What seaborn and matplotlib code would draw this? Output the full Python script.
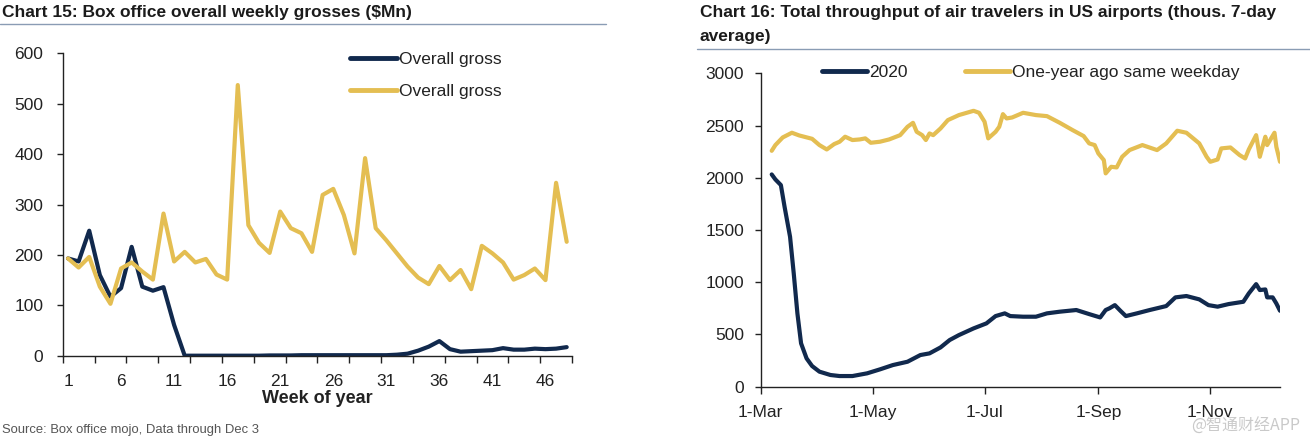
import numpy as np
import pandas as pd
import matplotlib
matplotlib.use('Agg')
import matplotlib.pyplot as plt
import matplotlib.dates as mdates
from matplotlib.lines import Line2D
from matplotlib import font_manager
import seaborn as sns

# ---- Chart 15: box office weekly grosses ($Mn), weeks 1-48 ----
weeks = list(range(1, 49))
gross_2020 = [193, 187, 248, 160, 117, 134, 216, 137, 129, 136, 61, 0,
              0, 0, 0, 0, 0, 0, 0, 0.5, 0.5, 0.5, 1, 1, 1, 1, 1, 1, 1, 1, 1,
              2, 4, 10, 18, 29, 13, 8, 9, 10, 11, 15, 12, 12, 14, 13, 14, 17]
gross_2019 = [193, 175, 196, 137, 103, 173, 185, 167, 151, 282, 187, 206,
              185, 192, 161, 151, 537, 259, 224, 204, 286, 253, 243, 206,
              319, 331, 279, 203, 392, 253, 229, 203, 177, 155, 142, 178,
              150, 170, 132, 218, 203, 185, 151, 160, 173, 150, 343, 226]
week_labels = [1, 6, 11, 16, 21, 26, 31, 36, 41, 46]

# ---- Chart 16: TSA throughput (thous., 7-day avg) ----
dates_2020 = ['2020-03-07', '2020-03-09', '2020-03-12', '2020-03-14', '2020-03-17',
              '2020-03-19', '2020-03-21', '2020-03-23', '2020-03-26', '2020-03-29',
              '2020-04-02', '2020-04-08', '2020-04-13', '2020-04-20', '2020-04-28',
              '2020-05-05', '2020-05-12', '2020-05-20', '2020-05-27', '2020-06-01',
              '2020-06-07', '2020-06-12', '2020-06-17', '2020-06-25', '2020-07-02',
              '2020-07-07', '2020-07-12', '2020-07-15', '2020-07-22', '2020-07-29',
              '2020-08-04', '2020-08-11', '2020-08-20', '2020-08-27', '2020-09-02',
              '2020-09-05', '2020-09-07', '2020-09-10', '2020-09-13', '2020-09-16',
              '2020-09-22', '2020-09-29', '2020-10-08', '2020-10-13', '2020-10-19',
              '2020-10-26', '2020-10-31', '2020-11-05', '2020-11-11', '2020-11-19',
              '2020-11-22', '2020-11-26', '2020-11-28', '2020-12-01', '2020-12-02',
              '2020-12-05', '2020-12-07', '2020-12-09']
tput_2020 = [2032, 1984, 1930, 1723, 1435, 1085, 702, 415, 271, 198,
             144, 112, 102, 102, 128, 166, 207, 239, 303, 319,
             376, 447, 494, 558, 606, 676, 702, 676, 670, 670,
             702, 718, 734, 695, 663, 734, 750, 781, 727, 676,
             702, 734, 772, 855, 868, 836, 781, 766, 791, 813,
             893, 982, 925, 931, 855, 855, 797, 727]

dates_2019 = ['2020-03-07', '2020-03-09', '2020-03-13', '2020-03-18', '2020-03-22',
              '2020-03-29', '2020-04-02', '2020-04-06', '2020-04-10', '2020-04-13',
              '2020-04-16', '2020-04-20', '2020-04-24', '2020-04-27', '2020-04-30',
              '2020-05-05', '2020-05-10', '2020-05-16', '2020-05-20', '2020-05-23',
              '2020-05-25', '2020-05-28', '2020-05-30', '2020-06-01', '2020-06-03',
              '2020-06-07', '2020-06-11', '2020-06-17', '2020-06-25', '2020-06-28',
              '2020-07-01', '2020-07-03', '2020-07-07', '2020-07-09', '2020-07-11',
              '2020-07-13', '2020-07-16', '2020-07-22', '2020-07-29', '2020-08-04',
              '2020-08-11', '2020-08-18', '2020-08-24', '2020-08-27', '2020-08-30',
              '2020-09-01', '2020-09-04', '2020-09-05', '2020-09-08', '2020-09-11',
              '2020-09-14', '2020-09-18', '2020-09-25', '2020-10-03', '2020-10-08',
              '2020-10-14', '2020-10-19', '2020-10-26', '2020-10-30', '2020-11-01',
              '2020-11-05', '2020-11-07', '2020-11-12', '2020-11-17', '2020-11-20',
              '2020-11-22', '2020-11-26', '2020-11-28', '2020-12-01', '2020-12-02',
              '2020-12-06', '2020-12-07', '2020-12-09']
tput_2019 = [2258, 2313, 2386, 2431, 2405, 2373, 2313, 2271, 2322, 2345,
             2393, 2361, 2367, 2377, 2335, 2345, 2367, 2408, 2488, 2526,
             2440, 2408, 2361, 2424, 2408, 2472, 2552, 2600, 2641, 2622,
             2536, 2377, 2440, 2488, 2609, 2568, 2577, 2622, 2600, 2590,
             2526, 2456, 2399, 2329, 2313, 2233, 2169, 2042, 2105, 2099,
             2201, 2265, 2313, 2265, 2329, 2450, 2431, 2329, 2201, 2153,
             2175, 2281, 2290, 2217, 2185, 2271, 2408, 2201, 2393, 2313,
             2431, 2297, 2153]

NAVY = '#11294d'
GOLD = '#e4be52'
RULE = '#8a9cb4'
TXT = '#222222'

sns.set_style('ticks')
plt.rcParams['font.family'] = ['Liberation Sans', 'DejaVu Sans']
avail = {f.name for f in font_manager.fontManager.ttflist}
NARROW = 'Liberation Sans Narrow' if 'Liberation Sans Narrow' in avail else 'Liberation Sans'

W, H = 1310, 442
fig = plt.figure(figsize=(W / 100, H / 100), dpi=100)


def fx(px):
    return px / W


def fy(py):
    return 1 - py / H


def style_axes(ax):
    for s in ['top', 'right']:
        ax.spines[s].set_visible(False)
    for s in ['left', 'bottom']:
        ax.spines[s].set_color(TXT)
        ax.spines[s].set_linewidth(1.0)
    ax.tick_params(colors=TXT, labelsize=12.5, width=1.0, length=4)


# ---------------- left panel ----------------
ax1 = fig.add_axes([fx(62.7), fy(355.7), fx(572 - 62.7), (355.7 - 53.3) / H])
box = pd.DataFrame({'week': weeks, 'y2020': gross_2020, 'y2019': gross_2019})
sns.lineplot(data=box, x='week', y='y2020', color=NAVY, lw=3, ax=ax1, label='Overall gross')
sns.lineplot(data=box, x='week', y='y2019', color=GOLD, lw=3, ax=ax1, label='Overall gross')
ax1.set_xlim(0.5, 48.5)
ax1.set_ylim(0, 600)
ax1.set_yticks(range(0, 601, 100))
ax1.set_xticks(week_labels)
ax1.set_xticks(np.arange(0.5, 48.6, 3), minor=True)
style_axes(ax1)
ax1.tick_params(axis='y', pad=10)
ax1.tick_params(axis='x', which='major', length=0, pad=13)
ax1.tick_params(axis='x', which='minor', length=5, width=1.0, color=TXT)
ax1.set_ylabel('')
ax1.set_xlabel('Week of year', fontsize=13, fontweight='bold', family=[NARROW, 'Liberation Sans'],
               color=TXT, labelpad=1)
leg1 = ax1.legend(loc='upper left', bbox_to_anchor=(fx(350), fy(52)), bbox_transform=fig.transFigure,
                  frameon=False, handlelength=2.7, handletextpad=0.1, labelspacing=0.95,
                  borderpad=0, borderaxespad=0, fontsize=12.5)
for t in leg1.get_texts():
    t.set_color(TXT)
for ln in leg1.get_lines():
    ln.set_linewidth(3.5)
    ln.set_solid_capstyle('round')

fig.text(fx(2), fy(12), 'Chart 15: Box office overall weekly grosses ($Mn)', fontsize=12.5,
         fontweight='bold', family=[NARROW, 'Liberation Sans'], color='#1b1b1b', va='center', ha='left')
fig.add_artist(Line2D([0, fx(606)], [fy(24), fy(24)], color=RULE, lw=1.0))
fig.text(fx(2), fy(430), 'Source: Box office mojo, Data through Dec 3', fontsize=9.4,
         color='#555555', va='center', ha='left')

# ---------------- right panel ----------------
ax2 = fig.add_axes([fx(760.7), fy(386.7), fx(1280 - 760.7), (386.7 - 73.3) / H])
air20 = pd.DataFrame({'date': pd.to_datetime(dates_2020), 'v': tput_2020})
air19 = pd.DataFrame({'date': pd.to_datetime(dates_2019), 'v': tput_2019})
sns.lineplot(data=air20, x='date', y='v', color=NAVY, lw=3, ax=ax2, label='2020')
sns.lineplot(data=air19, x='date', y='v', color=GOLD, lw=3, ax=ax2, label='One-year ago same weekday')
ax2.set_xlim(pd.Timestamp('2020-03-01'), pd.Timestamp('2020-12-09'))
ax2.set_ylim(0, 3000)
ax2.set_yticks(range(0, 3001, 500))
ax2.xaxis.set_major_locator(mdates.MonthLocator(bymonth=[3, 5, 7, 9, 11]))
ax2.xaxis.set_major_formatter(mdates.DateFormatter('%-d-%b'))
style_axes(ax2)
ax2.tick_params(axis='y', pad=8)
ax2.tick_params(axis='x', pad=8, length=5)
ax2.set_xlabel('')
ax2.set_ylabel('')
leg2 = ax2.legend(loc='upper left', bbox_to_anchor=(fx(822), fy(65)), bbox_transform=fig.transFigure,
                  frameon=False, ncol=2, handlelength=2.6, handletextpad=0.1, columnspacing=3.3,
                  borderpad=0, borderaxespad=0, fontsize=12.5)
for t in leg2.get_texts():
    t.set_color(TXT)
for ln in leg2.get_lines():
    ln.set_linewidth(3.5)
    ln.set_solid_capstyle('round')

fig.text(fx(700), fy(13), 'Chart 16: Total throughput of air travelers in US airports (thous. 7-day',
         fontsize=12.5, fontweight='bold', family=[NARROW, 'Liberation Sans'], color='#1b1b1b',
         va='center', ha='left')
fig.text(fx(700), fy(36), 'average)', fontsize=12.5, fontweight='bold',
         family=[NARROW, 'Liberation Sans'], color='#1b1b1b', va='center', ha='left')
fig.add_artist(Line2D([fx(697), 1], [fy(49), fy(49)], color=RULE, lw=1.0))

fig.text(fx(1300), fy(426), '@智通财经APP', fontsize=11.5, color='#c4c4c4', alpha=0.9,
         family=['Noto Sans CJK SC', 'DejaVu Sans'], va='center', ha='right')

fig.savefig('out.png', dpi=100)
